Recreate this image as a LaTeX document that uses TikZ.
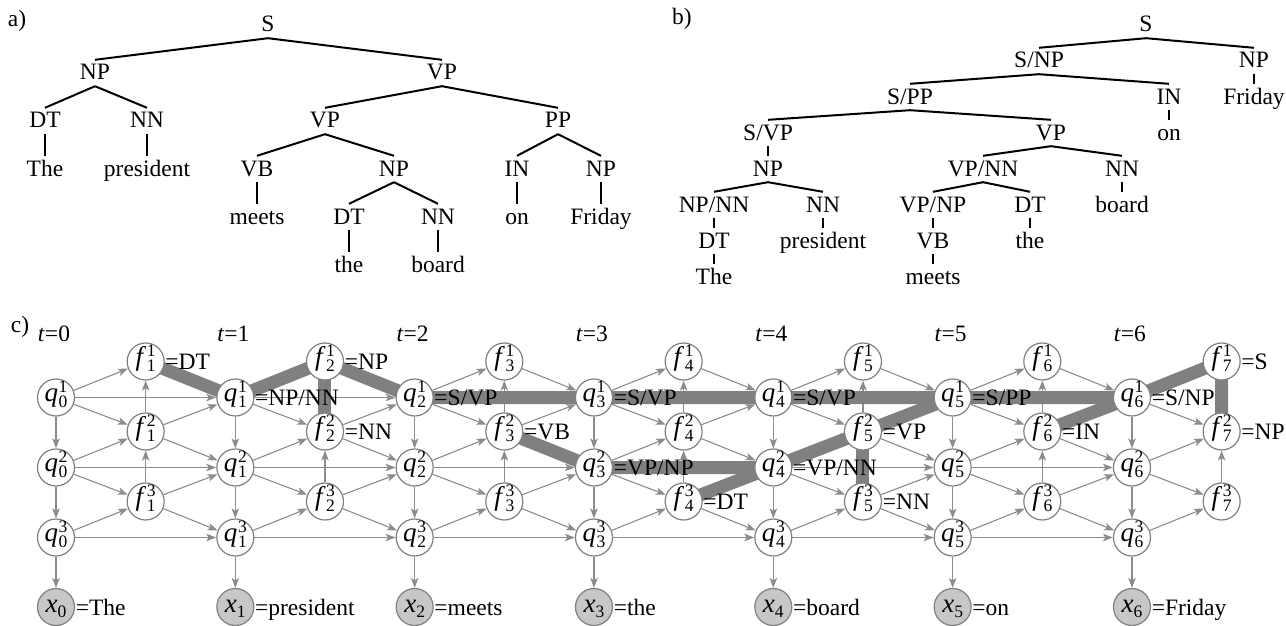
\documentclass[tikz,border=0pt]{standalone}
\usepackage{fontspec}
\setmainfont{Liberation Serif}
\usetikzlibrary{arrows.meta}
\pgfdeclarelayer{bg}\pgfdeclarelayer{hl}\pgfsetlayers{bg,hl,main}
\newcommand\sfs{\fontsize{17.5}{17.5}\selectfont}
\newcommand\mvar[1]{{\fontsize{27}{27}\selectfont\textit{#1}}}
\newcommand\lab[3]{\mvar{#1}\kern0.6pt\makebox[0pt][l]{\raisebox{9pt}{\sfs #3}}\raisebox{-6pt}{\sfs #2}}
\begin{document}
\begin{tikzpicture}[x=1pt,y=-1pt, font=\fontsize{23.5}{28}\selectfont,
 tn/.style={inner sep=0pt, text height=20pt, text depth=6pt},
 tl/.style={line width=2pt},
 qn/.style={circle, draw=black!50, fill=white, line width=1.2pt, minimum size=37pt, inner sep=0pt, text height=14pt, text depth=6pt},
 xn/.style={qn, fill=black!22, text height=15pt, text depth=5pt},
 eq/.style={anchor=west, inner sep=0.5pt, text height=16pt, text depth=0pt},
 arr/.style={draw=black!45, line width=1.1pt, -{Stealth[length=10pt,width=7.5pt,inset=2.5pt]}},
 hlt/.style={draw=black!50, line width=13pt, line join=round}]
\useasboundingbox (0,0) rectangle (1286,626);
% panel labels
\node[tn] (la) at (17,20) {a)};
\node[tn] (lb) at (682,18) {b)};
\node[tn] (lc) at (20,325) {c)};
% ---------- tree a ----------
\node[tn] (aS) at (268,25) {S};
\node[tn] (aNP) at (95,73) {NP};
\node[tn] (aVP) at (442,73) {VP};
\node[tn] (aDT) at (45,121) {DT};
\node[tn] (aNN) at (147,121) {NN};
\node[tn] (aVP2) at (325,121) {VP};
\node[tn] (aPP) at (558,121) {PP};
\node[tn] (aThe) at (45,169) {The};
\node[tn] (apres) at (147,169) {president};
\node[tn] (aVB) at (257,169) {VB};
\node[tn] (aNP2) at (394,169) {NP};
\node[tn] (aIN) at (517,169) {IN};
\node[tn] (aNP3) at (601,169) {NP};
\node[tn] (ameets) at (257,217) {meets};
\node[tn] (aDT2) at (349,217) {DT};
\node[tn] (aNN2) at (438,217) {NN};
\node[tn] (aon) at (517,217) {on};
\node[tn] (aFri) at (601,217) {Friday};
\node[tn] (athe) at (349,265) {the};
\node[tn] (aboard) at (438,265) {board};
\foreach \a/\b in {aS/aNP,aS/aVP,aNP/aDT,aNP/aNN,aDT/aThe,aNN/apres,aVP/aVP2,aVP/aPP,
  aVP2/aVB,aVP2/aNP2,aVB/ameets,aNP2/aDT2,aNP2/aNN2,aDT2/athe,aNN2/aboard,
  aPP/aIN,aPP/aNP3,aIN/aon,aNP3/aFri}
  \draw[tl] (\a.south) -- (\b.north);
% ---------- tree b ----------
\node[tn] (bS) at (1146,25) {S};
\node[tn] (bSNP) at (1039,61) {S/NP};
\node[tn] (bNP) at (1254,61) {NP};
\node[tn] (bSPP) at (910,97) {S/PP};
\node[tn] (bIN) at (1169,97) {IN};
\node[tn] (bFri) at (1254,97) {Friday};
\node[tn] (bSVP) at (768,133) {S/VP};
\node[tn] (bVP) at (1051,133) {VP};
\node[tn] (bon) at (1169,133) {on};
\node[tn] (bNP2) at (768,169) {NP};
\node[tn] (bVPNN) at (983,169) {VP/NN};
\node[tn] (bNN) at (1122,169) {NN};
\node[tn] (bNPNN) at (714,205) {NP/NN};
\node[tn] (bNN2) at (823,205) {NN};
\node[tn] (bVPNP) at (933,205) {VP/NP};
\node[tn] (bDT) at (1030,205) {DT};
\node[tn] (bboard) at (1122,205) {board};
\node[tn] (bDT2) at (714,241) {DT};
\node[tn] (bpres) at (823,241) {president};
\node[tn] (bVB) at (933,241) {VB};
\node[tn] (bthe) at (1030,241) {the};
\node[tn] (bThe) at (714,277) {The};
\node[tn] (bmeets) at (933,277) {meets};
\foreach \a/\b in {bS/bSNP,bS/bNP,bNP/bFri,bSNP/bSPP,bSNP/bIN,bIN/bon,bSPP/bSVP,bSPP/bVP,
  bSVP/bNP2,bNP2/bNPNN,bNP2/bNN2,bNPNN/bDT2,bDT2/bThe,bNN2/bpres,bVP/bVPNN,bVP/bNN,
  bNN/bboard,bVPNN/bVPNP,bVPNN/bDT,bVPNP/bVB,bVB/bmeets,bDT/bthe}
  \draw[tl] (\a.south) -- (\b.north);
% ---------- lattice ----------
\foreach \t in {0,...,6} {
  \node[eq, anchor=center] (t\t) at ({56+179.33*\t-2},333) {\textit{t}=\t};
  \foreach \k in {1,2,3}
    \node[qn] (q\t\k) at ({56+179.33*\t},{397.5+70*(\k-1)}) {\lab{q}{\t}{\k}};
  \node[xn] (x\t) at ({56+179.33*\t},607) {\mvar{x}\raisebox{-5pt}{\sfs\t}};
}
\foreach \t in {1,...,7}
  \foreach \k in {1,2,3}
    \node[qn] (f\t\k) at ({56+179.33*\t-89.67},{361.5+70*(\k-1)}) {\lab{f}{\t}{\k}};
\begin{pgfonlayer}{bg}
\foreach \t in {0,...,6} {
  \draw[arr] (q\t1) -- (q\t2);
  \draw[arr] (q\t2) -- (q\t3);
  \draw[arr] (q\t3) -- (x\t);
}
\foreach \t [count=\p from 0] in {1,...,7} {
  \draw[arr] (q\p1) -- (f\t1);
  \draw[arr] (q\p1) -- (f\t2);
  \draw[arr] (q\p2) -- (f\t2);
  \draw[arr] (q\p2) -- (f\t3);
  \draw[arr] (q\p3) -- (f\t3);
  \draw[arr] (f\t3) -- (f\t2);
  \draw[arr] (f\t2) -- (f\t1);
  \ifnum\t<7
    \draw[arr] (f\t1) -- (q\t1);
    \draw[arr] (f\t2) -- (q\t1);
    \draw[arr] (f\t2) -- (q\t2);
    \draw[arr] (f\t3) -- (q\t2);
    \draw[arr] (f\t3) -- (q\t3);
    \draw[arr] (q\p1) -- (q\t1);
    \draw[arr] (q\p2) -- (q\t2);
    \draw[arr] (q\p3) -- (q\t3);
  \fi
}
\end{pgfonlayer}
\begin{pgfonlayer}{hl}
\draw[hlt] (f11.center) -- (q11.center) -- (f21.center) -- (q21.center) -- (q31.center)
  -- (q41.center) -- (q51.center) -- (q61.center) -- (f71.center) -- (f72.center);
\draw[hlt] (f21.center) -- (f22.center);
\draw[hlt] (f32.center) -- (q32.center) -- (q42.center);
\draw[hlt] (f43.center) -- (q51.center);
\draw[hlt] (f52.center) -- (f53.center);
\draw[hlt] (f62.center) -- (q61.center);
\end{pgfonlayer}
% labels
\node[eq] (l11) at (f11.east) {=DT};
\node[eq] (lq11) at (q11.east) {=NP/NN};
\node[eq] (l21) at (f21.east) {=NP};
\node[eq] (l22) at (f22.east) {=NN};
\node[eq] (lq21) at (q21.east) {=S/VP};
\node[eq] (l32) at (f32.east) {=VB};
\node[eq] (lq31) at (q31.east) {=S/VP};
\node[eq] (lq32) at (q32.east) {=VP/NP};
\node[eq] (l43) at (f43.east) {=DT};
\node[eq] (lq41) at (q41.east) {=S/VP};
\node[eq] (lq42) at (q42.east) {=VP/NN};
\node[eq] (l52) at (f52.east) {=VP};
\node[eq] (l53) at (f53.east) {=NN};
\node[eq] (lq51) at (q51.east) {=S/PP};
\node[eq] (l62) at (f62.east) {=IN};
\node[eq] (lq61) at (q61.east) {=S/NP};
\node[eq] (l71) at (f71.east) {=S};
\node[eq] (l72) at (f72.east) {=NP};
\node[eq] (lx0) at (x0.east) {=The};
\node[eq] (lx1) at (x1.east) {=president};
\node[eq] (lx2) at (x2.east) {=meets};
\node[eq] (lx3) at (x3.east) {=the};
\node[eq] (lx4) at (x4.east) {=board};
\node[eq] (lx5) at (x5.east) {=on};
\node[eq] (lx6) at (x6.east) {=Friday};
\end{tikzpicture}
\end{document}
